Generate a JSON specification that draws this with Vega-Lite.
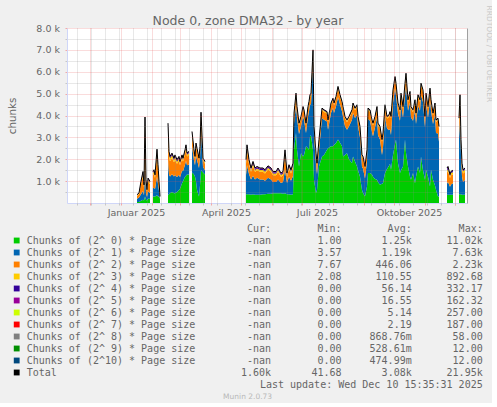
{
  "$schema": "https://vega.github.io/schema/vega-lite/v6.json",
  "background": "#F0F0F0",
  "padding": {"left": 7, "top": 5, "right": 0, "bottom": 0},
  "spacing": 5.5,
  "config": {
    "view": {"stroke": null},
    "axis": {"labelFont": "DejaVu Sans", "labelFontSize": 9.5, "labelColor": "#666666", "titleFont": "DejaVu Sans", "titleColor": "#666666", "titleFontWeight": "normal"},
    "title": {"font": "DejaVu Sans", "fontSize": 12.5, "fontWeight": "normal", "color": "#666666"}
  },
  "datasets": {
    "series": [
      {"t":"2025-01-17","s":1,"a":50,"b":150,"c":120,"d":30,"e":20,"f":10},
      {"t":"2025-01-19","s":1,"a":50,"b":200,"c":150,"d":30,"e":20,"f":10},
      {"t":"2025-01-21","s":1,"a":100,"b":300,"c":450,"d":80,"e":50,"f":20},
      {"t":"2025-01-23","s":1,"a":150,"b":400,"c":700,"d":100,"e":60,"f":30},
      {"t":"2025-01-24","s":1,"a":120,"b":240,"c":350,"d":60,"e":40,"f":20},
      {"t":"2025-01-25","s":1,"a":300,"b":1420,"c":1600,"d":400,"e":150,"f":60},
      {"t":"2025-01-26","s":1,"a":150,"b":310,"c":450,"d":80,"e":50,"f":20},
      {"t":"2025-01-27","s":1,"a":120,"b":150,"c":250,"d":50,"e":30,"f":10},
      {"t":"2025-01-28","s":1,"a":200,"b":340,"c":450,"d":80,"e":50,"f":20},
      {"t":"2025-01-30","s":1,"a":200,"b":260,"c":400,"d":70,"e":40,"f":20},
      {"t":"2025-02-02","s":2,"a":300,"b":370,"c":600,"d":100,"e":50,"f":20},
      {"t":"2025-02-03","s":2,"a":300,"b":400,"c":650,"d":100,"e":50,"f":20},
      {"t":"2025-02-04","s":2,"a":300,"b":340,"c":500,"d":80,"e":50,"f":20},
      {"t":"2025-02-06","s":2,"a":350,"b":850,"c":1000,"d":150,"e":80,"f":30},
      {"t":"2025-02-07","s":2,"a":300,"b":570,"c":700,"d":100,"e":60,"f":20},
      {"t":"2025-02-08","s":2,"a":300,"b":250,"c":350,"d":60,"e":30,"f":10},
      {"t":"2025-02-09","s":2,"a":200,"b":20,"c":50,"d":20,"e":10,"f":0},
      {"t":"2025-02-17","s":3,"a":350,"b":1680,"c":1200,"d":250,"e":120,"f":50},
      {"t":"2025-02-18","s":3,"a":400,"b":900,"c":800,"d":150,"e":80,"f":30},
      {"t":"2025-02-19","s":3,"a":450,"b":760,"c":700,"d":120,"e":70,"f":30},
      {"t":"2025-02-21","s":3,"a":500,"b":810,"c":750,"d":120,"e":70,"f":30},
      {"t":"2025-02-23","s":3,"a":450,"b":760,"c":650,"d":100,"e":60,"f":30},
      {"t":"2025-02-24","s":3,"a":450,"b":830,"c":700,"d":120,"e":70,"f":30},
      {"t":"2025-02-26","s":3,"a":500,"b":690,"c":600,"d":100,"e":60,"f":30},
      {"t":"2025-02-28","s":3,"a":600,"b":690,"c":650,"d":100,"e":60,"f":30},
      {"t":"2025-03-01","s":3,"a":650,"b":530,"c":550,"d":100,"e":50,"f":20},
      {"t":"2025-03-03","s":3,"a":900,"b":570,"c":550,"d":100,"e":60,"f":20},
      {"t":"2025-03-04","s":3,"a":1000,"b":450,"c":450,"d":80,"e":50,"f":20},
      {"t":"2025-03-06","s":3,"a":1200,"b":550,"c":500,"d":100,"e":60,"f":20},
      {"t":"2025-03-07","s":3,"a":1250,"b":680,"c":550,"d":100,"e":60,"f":20},
      {"t":"2025-03-08","s":3,"a":1300,"b":430,"c":400,"d":80,"e":50,"f":20},
      {"t":"2025-03-10","s":3,"a":1300,"b":460,"c":450,"d":80,"e":50,"f":20},
      {"t":"2025-03-13","s":4,"a":1400,"b":1200,"c":500,"d":100,"e":50,"f":20},
      {"t":"2025-03-15","s":4,"a":1300,"b":650,"c":350,"d":70,"e":40,"f":20},
      {"t":"2025-03-16","s":4,"a":1200,"b":530,"c":300,"d":60,"e":30,"f":10},
      {"t":"2025-03-17","s":4,"a":1000,"b":1150,"c":450,"d":80,"e":40,"f":20},
      {"t":"2025-03-18","s":4,"a":600,"b":1380,"c":400,"d":70,"e":40,"f":20},
      {"t":"2025-03-20","s":4,"a":300,"b":1300,"c":350,"d":60,"e":30,"f":10},
      {"t":"2025-03-21","s":4,"a":800,"b":1260,"c":400,"d":70,"e":40,"f":20},
      {"t":"2025-03-22","s":4,"a":1500,"b":1850,"c":600,"d":120,"e":60,"f":20},
      {"t":"2025-03-24","s":4,"a":1400,"b":250,"c":300,"d":60,"e":30,"f":10},
      {"t":"2025-03-25","s":4,"a":1350,"b":230,"c":300,"d":60,"e":30,"f":10},
      {"t":"2025-03-26","s":4,"a":1300,"b":200,"c":300,"d":60,"e":30,"f":10},
      {"t":"2025-05-06","s":5,"a":400,"b":880,"c":500,"d":100,"e":70,"f":30},
      {"t":"2025-05-07","s":5,"a":400,"b":1330,"c":700,"d":120,"e":80,"f":30},
      {"t":"2025-05-09","s":5,"a":400,"b":930,"c":450,"d":100,"e":70,"f":30},
      {"t":"2025-05-11","s":5,"a":380,"b":700,"c":350,"d":80,"e":60,"f":30},
      {"t":"2025-05-13","s":5,"a":400,"b":850,"c":450,"d":100,"e":70,"f":30},
      {"t":"2025-05-15","s":5,"a":380,"b":700,"c":350,"d":80,"e":60,"f":30},
      {"t":"2025-05-17","s":5,"a":380,"b":770,"c":350,"d":80,"e":60,"f":30},
      {"t":"2025-05-20","s":5,"a":380,"b":700,"c":350,"d":80,"e":60,"f":30},
      {"t":"2025-05-23","s":5,"a":400,"b":680,"c":350,"d":80,"e":60,"f":30},
      {"t":"2025-05-25","s":5,"a":400,"b":620,"c":330,"d":80,"e":60,"f":30},
      {"t":"2025-05-28","s":5,"a":420,"b":730,"c":380,"d":80,"e":60,"f":30},
      {"t":"2025-05-31","s":5,"a":420,"b":660,"c":350,"d":80,"e":60,"f":30},
      {"t":"2025-06-02","s":5,"a":450,"b":510,"c":310,"d":80,"e":60,"f":30},
      {"t":"2025-06-05","s":5,"a":450,"b":510,"c":310,"d":80,"e":60,"f":30},
      {"t":"2025-06-07","s":5,"a":450,"b":630,"c":350,"d":80,"e":60,"f":30},
      {"t":"2025-06-10","s":5,"a":450,"b":470,"c":280,"d":80,"e":60,"f":30},
      {"t":"2025-06-12","s":5,"a":420,"b":540,"c":310,"d":80,"e":60,"f":30},
      {"t":"2025-06-14","s":5,"a":450,"b":1060,"c":700,"d":120,"e":70,"f":30},
      {"t":"2025-06-16","s":5,"a":400,"b":520,"c":280,"d":80,"e":60,"f":30},
      {"t":"2025-06-18","s":5,"a":400,"b":800,"c":380,"d":80,"e":60,"f":30},
      {"t":"2025-06-20","s":5,"a":380,"b":640,"c":330,"d":80,"e":60,"f":30},
      {"t":"2025-06-22","s":5,"a":400,"b":840,"c":410,"d":80,"e":60,"f":30},
      {"t":"2025-06-23","s":5,"a":2430,"b":1180,"c":400,"d":60,"e":30,"f":10},
      {"t":"2025-06-25","s":5,"a":3200,"b":1270,"c":450,"d":60,"e":30,"f":10},
      {"t":"2025-06-26","s":5,"a":2430,"b":1480,"c":400,"d":60,"e":30,"f":10},
      {"t":"2025-06-28","s":5,"a":1670,"b":1480,"c":400,"d":60,"e":30,"f":10},
      {"t":"2025-06-30","s":5,"a":2280,"b":1230,"c":350,"d":60,"e":30,"f":10},
      {"t":"2025-07-02","s":5,"a":2130,"b":1830,"c":350,"d":60,"e":30,"f":10},
      {"t":"2025-07-03","s":5,"a":2200,"b":1610,"c":350,"d":60,"e":30,"f":10},
      {"t":"2025-07-05","s":5,"a":2600,"b":600,"c":350,"d":60,"e":30,"f":10},
      {"t":"2025-07-07","s":5,"a":2500,"b":1460,"c":350,"d":60,"e":30,"f":10},
      {"t":"2025-07-08","s":5,"a":2430,"b":1760,"c":350,"d":60,"e":30,"f":10},
      {"t":"2025-07-09","s":5,"a":3050,"b":1450,"c":350,"d":60,"e":30,"f":10},
      {"t":"2025-07-10","s":5,"a":3100,"b":1420,"c":400,"d":60,"e":30,"f":10},
      {"t":"2025-07-12","s":5,"a":2430,"b":3970,"c":500,"d":60,"e":30,"f":10},
      {"t":"2025-07-13","s":5,"a":1060,"b":1990,"c":350,"d":60,"e":30,"f":10},
      {"t":"2025-07-15","s":5,"a":460,"b":1320,"c":400,"d":60,"e":30,"f":10},
      {"t":"2025-07-16","s":5,"a":600,"b":720,"c":400,"d":60,"e":30,"f":10},
      {"t":"2025-07-18","s":5,"a":1670,"b":730,"c":400,"d":60,"e":30,"f":10},
      {"t":"2025-07-21","s":5,"a":2130,"b":1760,"c":350,"d":60,"e":30,"f":10},
      {"t":"2025-07-23","s":5,"a":2200,"b":1610,"c":350,"d":60,"e":30,"f":10},
      {"t":"2025-07-26","s":5,"a":2430,"b":1300,"c":350,"d":60,"e":30,"f":10},
      {"t":"2025-07-27","s":5,"a":2500,"b":850,"c":350,"d":60,"e":30,"f":10},
      {"t":"2025-07-30","s":5,"a":2600,"b":1520,"c":350,"d":60,"e":30,"f":10},
      {"t":"2025-08-01","s":5,"a":2600,"b":1740,"c":350,"d":60,"e":30,"f":10},
      {"t":"2025-08-02","s":5,"a":2650,"b":1470,"c":350,"d":60,"e":30,"f":10},
      {"t":"2025-08-04","s":5,"a":2740,"b":1680,"c":350,"d":60,"e":30,"f":10},
      {"t":"2025-08-06","s":5,"a":2900,"b":1930,"c":400,"d":60,"e":30,"f":10},
      {"t":"2025-08-08","s":5,"a":2750,"b":1750,"c":350,"d":60,"e":30,"f":10},
      {"t":"2025-08-10","s":5,"a":2600,"b":1590,"c":350,"d":60,"e":30,"f":10},
      {"t":"2025-08-11","s":5,"a":2130,"b":1830,"c":350,"d":60,"e":30,"f":10},
      {"t":"2025-08-13","s":5,"a":2200,"b":1310,"c":350,"d":60,"e":30,"f":10},
      {"t":"2025-08-15","s":5,"a":2280,"b":1070,"c":350,"d":60,"e":30,"f":10},
      {"t":"2025-08-17","s":5,"a":2000,"b":1510,"c":350,"d":60,"e":30,"f":10},
      {"t":"2025-08-20","s":5,"a":1820,"b":1990,"c":350,"d":60,"e":30,"f":10},
      {"t":"2025-08-21","s":5,"a":2130,"b":1990,"c":350,"d":60,"e":30,"f":10},
      {"t":"2025-08-23","s":5,"a":1900,"b":1990,"c":350,"d":60,"e":30,"f":10},
      {"t":"2025-08-25","s":5,"a":1670,"b":2370,"c":350,"d":60,"e":30,"f":10},
      {"t":"2025-08-26","s":5,"a":1500,"b":2010,"c":350,"d":60,"e":30,"f":10},
      {"t":"2025-08-28","s":5,"a":1200,"b":1800,"c":400,"d":60,"e":30,"f":10},
      {"t":"2025-08-30","s":5,"a":600,"b":1050,"c":450,"d":60,"e":30,"f":10},
      {"t":"2025-08-31","s":5,"a":460,"b":1120,"c":450,"d":60,"e":30,"f":10},
      {"t":"2025-09-02","s":5,"a":300,"b":820,"c":450,"d":60,"e":30,"f":10},
      {"t":"2025-09-04","s":5,"a":760,"b":1170,"c":400,"d":60,"e":30,"f":10},
      {"t":"2025-09-05","s":5,"a":1370,"b":2470,"c":400,"d":60,"e":30,"f":10},
      {"t":"2025-09-07","s":5,"a":1370,"b":2390,"c":400,"d":60,"e":30,"f":10},
      {"t":"2025-09-09","s":5,"a":1300,"b":1950,"c":450,"d":60,"e":30,"f":10},
      {"t":"2025-09-10","s":5,"a":1200,"b":1850,"c":500,"d":60,"e":30,"f":10},
      {"t":"2025-09-12","s":5,"a":1100,"b":2360,"c":400,"d":60,"e":30,"f":10},
      {"t":"2025-09-14","s":5,"a":1060,"b":2850,"c":400,"d":60,"e":30,"f":10},
      {"t":"2025-09-15","s":5,"a":950,"b":2150,"c":450,"d":60,"e":30,"f":10},
      {"t":"2025-09-17","s":5,"a":830,"b":2070,"c":500,"d":60,"e":30,"f":10},
      {"t":"2025-09-19","s":5,"a":880,"b":1320,"c":600,"d":60,"e":30,"f":10},
      {"t":"2025-09-20","s":5,"a":900,"b":1650,"c":550,"d":60,"e":30,"f":10},
      {"t":"2025-09-22","s":5,"a":1370,"b":2570,"c":450,"d":60,"e":30,"f":10},
      {"t":"2025-09-24","s":5,"a":1550,"b":1860,"c":450,"d":60,"e":30,"f":10},
      {"t":"2025-09-26","s":5,"a":1700,"b":1630,"c":600,"d":60,"e":30,"f":10},
      {"t":"2025-09-27","s":5,"a":1800,"b":1580,"c":700,"d":60,"e":30,"f":10},
      {"t":"2025-09-28","s":5,"a":1520,"b":1590,"c":750,"d":60,"e":30,"f":10},
      {"t":"2025-09-30","s":5,"a":2200,"b":2370,"c":500,"d":60,"e":30,"f":10},
      {"t":"2025-10-02","s":5,"a":2700,"b":2530,"c":450,"d":60,"e":30,"f":10},
      {"t":"2025-10-03","s":5,"a":2900,"b":2030,"c":450,"d":60,"e":30,"f":10},
      {"t":"2025-10-05","s":5,"a":1820,"b":2250,"c":400,"d":60,"e":30,"f":10},
      {"t":"2025-10-07","s":5,"a":1370,"b":2390,"c":400,"d":60,"e":30,"f":10},
      {"t":"2025-10-08","s":5,"a":1500,"b":3020,"c":400,"d":60,"e":30,"f":10},
      {"t":"2025-10-10","s":5,"a":1670,"b":2240,"c":400,"d":60,"e":30,"f":10},
      {"t":"2025-10-12","s":5,"a":2900,"b":2030,"c":450,"d":60,"e":30,"f":10},
      {"t":"2025-10-13","s":5,"a":2300,"b":3080,"c":450,"d":60,"e":30,"f":10},
      {"t":"2025-10-15","s":5,"a":1670,"b":2550,"c":400,"d":60,"e":30,"f":10},
      {"t":"2025-10-17","s":5,"a":1200,"b":3400,"c":400,"d":60,"e":30,"f":10},
      {"t":"2025-10-18","s":5,"a":1060,"b":2850,"c":400,"d":60,"e":30,"f":10},
      {"t":"2025-10-20","s":5,"a":1370,"b":2390,"c":400,"d":60,"e":30,"f":10},
      {"t":"2025-10-22","s":5,"a":900,"b":3320,"c":400,"d":60,"e":30,"f":10},
      {"t":"2025-10-23","s":5,"a":1200,"b":2410,"c":400,"d":60,"e":30,"f":10},
      {"t":"2025-10-25","s":5,"a":1670,"b":2780,"c":400,"d":60,"e":30,"f":10},
      {"t":"2025-10-27","s":5,"a":1370,"b":2850,"c":400,"d":60,"e":30,"f":10},
      {"t":"2025-10-28","s":5,"a":2130,"b":2800,"c":450,"d":60,"e":30,"f":10},
      {"t":"2025-10-30","s":5,"a":1500,"b":3120,"c":450,"d":60,"e":30,"f":10},
      {"t":"2025-11-01","s":5,"a":1060,"b":2400,"c":400,"d":60,"e":30,"f":10},
      {"t":"2025-11-02","s":5,"a":1520,"b":2950,"c":450,"d":60,"e":30,"f":10},
      {"t":"2025-11-04","s":5,"a":1200,"b":2710,"c":400,"d":60,"e":30,"f":10},
      {"t":"2025-11-06","s":5,"a":760,"b":3940,"c":450,"d":60,"e":30,"f":10},
      {"t":"2025-11-07","s":5,"a":1520,"b":2700,"c":400,"d":60,"e":30,"f":10},
      {"t":"2025-11-09","s":5,"a":1060,"b":2550,"c":400,"d":60,"e":30,"f":10},
      {"t":"2025-11-11","s":5,"a":800,"b":3220,"c":450,"d":60,"e":30,"f":10},
      {"t":"2025-11-12","s":5,"a":610,"b":2590,"c":500,"d":60,"e":30,"f":10},
      {"t":"2025-11-14","s":5,"a":300,"b":2880,"c":600,"d":60,"e":30,"f":10},
      {"t":"2025-11-15","s":5,"a":300,"b":2500,"c":600,"d":60,"e":30,"f":10},
      {"t":"2025-11-23","s":6,"a":380,"b":510,"c":500,"d":100,"e":80,"f":30},
      {"t":"2025-11-24","s":6,"a":380,"b":580,"c":500,"d":100,"e":80,"f":30},
      {"t":"2025-11-26","s":6,"a":380,"b":360,"c":400,"d":80,"e":60,"f":20},
      {"t":"2025-11-27","s":6,"a":380,"b":470,"c":420,"d":100,"e":60,"f":20},
      {"t":"2025-11-29","s":6,"a":380,"b":520,"c":420,"d":100,"e":60,"f":20},
      {"t":"2025-12-05","s":7,"a":400,"b":2580,"c":700,"d":120,"e":60,"f":20},
      {"t":"2025-12-06","s":7,"a":400,"b":3550,"c":800,"d":120,"e":60,"f":20},
      {"t":"2025-12-07","s":7,"a":400,"b":1800,"c":500,"d":120,"e":60,"f":20},
      {"t":"2025-12-08","s":7,"a":380,"b":840,"c":420,"d":100,"e":60,"f":20},
      {"t":"2025-12-09","s":7,"a":380,"b":590,"c":380,"d":100,"e":50,"f":20},
      {"t":"2025-12-11","s":7,"a":380,"b":670,"c":380,"d":100,"e":50,"f":20}
    ],
    "legend": [
      {"r":-1,"cur":"Cur:\u00a0\u00a0","mn":"Min:\u00a0\u00a0","av":"Avg:\u00a0\u00a0","mx":"Max:\u00a0\u00a0"},
      {"r":0,"key":"a","lab":"Chunks of (2^ 0) * Page size","cur":"-nan\u00a0","mn":"1.00\u00a0","av":"1.25k","mx":"11.02k"},
      {"r":1,"key":"b","lab":"Chunks of (2^ 1) * Page size","cur":"-nan\u00a0","mn":"3.57\u00a0","av":"1.19k","mx":"7.63k"},
      {"r":2,"key":"c","lab":"Chunks of (2^ 2) * Page size","cur":"-nan\u00a0","mn":"7.67\u00a0","av":"446.06\u00a0","mx":"2.23k"},
      {"r":3,"key":"d","lab":"Chunks of (2^ 3) * Page size","cur":"-nan\u00a0","mn":"2.08\u00a0","av":"110.55\u00a0","mx":"892.68\u00a0"},
      {"r":4,"key":"e","lab":"Chunks of (2^ 4) * Page size","cur":"-nan\u00a0","mn":"0.00\u00a0","av":"56.14\u00a0","mx":"332.17\u00a0"},
      {"r":5,"key":"f","lab":"Chunks of (2^ 5) * Page size","cur":"-nan\u00a0","mn":"0.00\u00a0","av":"16.55\u00a0","mx":"162.32\u00a0"},
      {"r":6,"key":"g","lab":"Chunks of (2^ 6) * Page size","cur":"-nan\u00a0","mn":"0.00\u00a0","av":"5.14\u00a0","mx":"257.00\u00a0"},
      {"r":7,"key":"h","lab":"Chunks of (2^ 7) * Page size","cur":"-nan\u00a0","mn":"0.00\u00a0","av":"2.19\u00a0","mx":"187.00\u00a0"},
      {"r":8,"key":"i","lab":"Chunks of (2^ 8) * Page size","cur":"-nan\u00a0","mn":"0.00\u00a0","av":"868.76m","mx":"58.00\u00a0"},
      {"r":9,"key":"j","lab":"Chunks of (2^ 9) * Page size","cur":"-nan\u00a0","mn":"0.00\u00a0","av":"528.61m","mx":"12.00\u00a0"},
      {"r":10,"key":"k","lab":"Chunks of (2^10) * Page size","cur":"-nan\u00a0","mn":"0.00\u00a0","av":"474.99m","mx":"12.00\u00a0"},
      {"r":11,"key":"t","lab":"Total","cur":"1.60k","mn":"41.68\u00a0","av":"3.08k","mx":"21.95k"},
      {"r":12,"mx":"Last update: Wed Dec 10 15:35:31 2025"},
      {"r":13,"foot":"Munin 2.0.73"}
    ]
  },
  "vconcat": [
    {
      "width": 400,
      "height": 175,
      "view": {"fill": "white", "stroke": null},
      "title": {"text": "Node 0, zone DMA32 - by year", "anchor": "middle", "offset": 0, "dy": 22, "dx": -19},
      "data": {"name": "series"},
      "transform": [
        {"fold": ["a", "b", "c", "d", "e", "f"], "as": ["k", "v"]},
        {"stack": "v", "groupby": ["t"], "sort": [{"field": "k", "order": "ascending"}], "as": ["v0", "v1"]}
      ],
      "layer": [
        {
          "mark": {"type": "area", "interpolate": "linear"},
          "encoding": {
            "x": {"field": "t", "type": "temporal",
              "scale": {"type": "utc", "domain": [{"year": 2024, "month": 11, "date": 8, "utc": true}, {"year": 2025, "month": 12, "date": 13, "utc": true}]},
              "axis": {"orient": "bottom", "title": null, "labels": false, "domain": false, "tickSize": 2, "tickColor": "#C7C7C7", "grid": true, "gridColor": "#8F8F8F", "gridOpacity": 0.4, "gridDash": [1, 1], "zindex": 1,
                "values": [
                  {"year": 2024, "month": 11, "date": 18, "utc": true}, {"year": 2024, "month": 12, "date": 2, "utc": true},
                  {"year": 2024, "month": 12, "date": 16, "utc": true}, {"year": 2024, "month": 12, "date": 30, "utc": true},
                  {"year": 2025, "month": 1, "date": 13, "utc": true}, {"year": 2025, "month": 1, "date": 27, "utc": true},
                  {"year": 2025, "month": 2, "date": 10, "utc": true}, {"year": 2025, "month": 2, "date": 24, "utc": true},
                  {"year": 2025, "month": 3, "date": 10, "utc": true}, {"year": 2025, "month": 3, "date": 24, "utc": true},
                  {"year": 2025, "month": 4, "date": 7, "utc": true}, {"year": 2025, "month": 4, "date": 21, "utc": true},
                  {"year": 2025, "month": 5, "date": 5, "utc": true}, {"year": 2025, "month": 5, "date": 19, "utc": true},
                  {"year": 2025, "month": 6, "date": 2, "utc": true}, {"year": 2025, "month": 6, "date": 16, "utc": true},
                  {"year": 2025, "month": 6, "date": 30, "utc": true}, {"year": 2025, "month": 7, "date": 14, "utc": true},
                  {"year": 2025, "month": 7, "date": 28, "utc": true}, {"year": 2025, "month": 8, "date": 11, "utc": true},
                  {"year": 2025, "month": 8, "date": 25, "utc": true}, {"year": 2025, "month": 9, "date": 8, "utc": true},
                  {"year": 2025, "month": 9, "date": 22, "utc": true}, {"year": 2025, "month": 10, "date": 6, "utc": true},
                  {"year": 2025, "month": 10, "date": 20, "utc": true}, {"year": 2025, "month": 11, "date": 3, "utc": true},
                  {"year": 2025, "month": 11, "date": 17, "utc": true}, {"year": 2025, "month": 12, "date": 1, "utc": true}
                ]}},
            "y": {"field": "v1", "type": "quantitative",
              "scale": {"domain": [0, 8000], "nice": false},
              "axis": {"orient": "left", "title": null, "labels": false, "domain": false, "tickSize": 2, "tickColor": "#C7C7C7", "grid": true, "gridColor": "#8F8F8F", "gridOpacity": 0.4, "gridDash": [1, 1], "zindex": 1,
                "values": [500, 1500, 2500, 3500, 4500, 5500, 6500, 7500]}},
            "y2": {"field": "v0"},
            "color": {"field": "k", "type": "nominal", "legend": null,
              "scale": {"domain": ["a", "b", "c", "d", "e", "f", "g", "h", "i", "j", "k", "t"],
                "range": ["#00CC00", "#0066B3", "#FF8000", "#FFCC00", "#330099", "#990099", "#CCFF00", "#FF0000", "#808080", "#008F00", "#00487D", "#000000"]}},
            "detail": {"field": "s", "type": "nominal"}
          }
        },
        {
          "mark": {"type": "line", "color": "#000000", "strokeWidth": 1},
          "encoding": {
            "x": {"field": "t", "type": "temporal",
              "axis": {"orient": "bottom", "title": null, "labels": false, "domain": false, "tickSize": 2, "tickColor": "#F2A9A9", "grid": true, "gridColor": "#E65353", "gridOpacity": 0.4, "gridDash": [1, 1], "zindex": 1,
                "values": [
                  {"year": 2024, "month": 12, "date": 1, "utc": true}, {"year": 2025, "month": 1, "date": 1, "utc": true},
                  {"year": 2025, "month": 2, "date": 1, "utc": true}, {"year": 2025, "month": 3, "date": 1, "utc": true},
                  {"year": 2025, "month": 4, "date": 1, "utc": true}, {"year": 2025, "month": 5, "date": 1, "utc": true},
                  {"year": 2025, "month": 6, "date": 1, "utc": true}, {"year": 2025, "month": 7, "date": 1, "utc": true},
                  {"year": 2025, "month": 8, "date": 1, "utc": true}, {"year": 2025, "month": 9, "date": 1, "utc": true},
                  {"year": 2025, "month": 10, "date": 1, "utc": true}, {"year": 2025, "month": 11, "date": 1, "utc": true},
                  {"year": 2025, "month": 12, "date": 1, "utc": true}
                ]}},
            "y": {"aggregate": "sum", "field": "v", "type": "quantitative",
              "scale": {"domain": [0, 8000], "nice": false},
              "axis": {"orient": "left", "title": "chunks", "titleFontSize": 10.3, "titlePadding": 18, "labelFontSize": 9.5, "labelPadding": 5.5,
                "labelExpr": "format(datum.value / 1000, '.1f') + ' k'",
                "domainColor": "#CFD6F8", "tickSize": 2, "tickColor": "#F2A9A9", "grid": true, "gridColor": "#E65353", "gridOpacity": 0.4, "gridDash": [1, 1], "zindex": 1,
                "values": [1000, 2000, 3000, 4000, 5000, 6000, 7000, 8000]}},
            "detail": {"field": "s", "type": "nominal"}
          }
        },
        {
          "mark": {"type": "line", "opacity": 0},
          "encoding": {
            "x": {"field": "t", "type": "temporal",
              "axis": {"orient": "bottom", "title": null, "ticks": false, "grid": false, "domainColor": "#CFD6F8", "labelPadding": 4, "labelFontSize": 9.5,
                "labelExpr": "['Januar','','','April','','','Juli','','','Oktober','',''][utcmonth(datum.value)] + ' ' + utcyear(datum.value)",
                "values": [
                  {"year": 2025, "month": 1, "date": 16, "utc": true}, {"year": 2025, "month": 4, "date": 16, "utc": true},
                  {"year": 2025, "month": 7, "date": 16, "utc": true}, {"year": 2025, "month": 10, "date": 16, "utc": true}
                ]}},
            "y": {"aggregate": "sum", "field": "v", "type": "quantitative",
              "scale": {"domain": [0, 8000], "nice": false},
              "axis": {"orient": "right", "labels": false, "ticks": false, "grid": false, "domainColor": "#A0A0A0",
                "title": "RRDTOOL / TOBI OETIKER", "titleFontSize": 7.5, "titleColor": "#C8C8C8", "titleAngle": 90,
                "titleAlign": "left", "titleBaseline": "middle", "titleX": 21, "titleY": -23}},
            "detail": {"field": "s", "type": "nominal"}
          }
        }
      ],
      "resolve": {"axis": {"x": "independent", "y": "independent"}}
    },
    {
      "width": 420,
      "height": 180,
      "data": {"name": "legend"},
      "encoding": {
        "y": {"field": "r", "type": "quantitative", "scale": {"domain": [-1.5, 13.5], "reverse": true, "nice": false, "zero": false}, "axis": null}
      },
      "layer": [
        {
          "transform": [{"filter": "isValid(datum.key)"}],
          "mark": {"type": "point", "shape": "square", "filled": true, "size": 34, "opacity": 1},
          "encoding": {
            "x": {"datum": -1.675, "type": "quantitative", "scale": {"domain": [6.75, 77.1], "nice": false, "zero": false}, "axis": null},
            "color": {"field": "key", "type": "nominal", "legend": null}
          }
        },
        {
          "transform": [{"filter": "isValid(datum.lab)"}],
          "mark": {"type": "text", "align": "left", "baseline": "middle", "font": "DejaVu Sans Mono", "fontSize": 10, "fill": "#666666"},
          "encoding": {"x": {"datum": 0, "type": "quantitative"}, "text": {"field": "lab"}}
        },
        {
          "transform": [{"filter": "isValid(datum.cur)"}],
          "mark": {"type": "text", "align": "right", "baseline": "middle", "font": "DejaVu Sans Mono", "fontSize": 10, "fill": "#666666"},
          "encoding": {"x": {"datum": 40.92, "type": "quantitative"}, "text": {"field": "cur"}}
        },
        {
          "transform": [{"filter": "isValid(datum.mn)"}],
          "mark": {"type": "text", "align": "right", "baseline": "middle", "font": "DejaVu Sans Mono", "fontSize": 10, "fill": "#666666"},
          "encoding": {"x": {"datum": 52.75, "type": "quantitative"}, "text": {"field": "mn"}}
        },
        {
          "transform": [{"filter": "isValid(datum.av)"}],
          "mark": {"type": "text", "align": "right", "baseline": "middle", "font": "DejaVu Sans Mono", "fontSize": 10, "fill": "#666666"},
          "encoding": {"x": {"datum": 64.49, "type": "quantitative"}, "text": {"field": "av"}}
        },
        {
          "transform": [{"filter": "isValid(datum.mx)"}],
          "mark": {"type": "text", "align": "right", "baseline": "middle", "font": "DejaVu Sans Mono", "fontSize": 10, "fill": "#666666"},
          "encoding": {"x": {"datum": 76.38, "type": "quantitative"}, "text": {"field": "mx"}}
        },
        {
          "transform": [{"filter": "isValid(datum.foot)"}],
          "mark": {"type": "text", "align": "center", "baseline": "middle", "font": "DejaVu Sans", "fontSize": 7.5, "fill": "#B8B8B8"},
          "encoding": {"x": {"datum": 37, "type": "quantitative"}, "text": {"field": "foot"}}
        }
      ]
    }
  ]
}
